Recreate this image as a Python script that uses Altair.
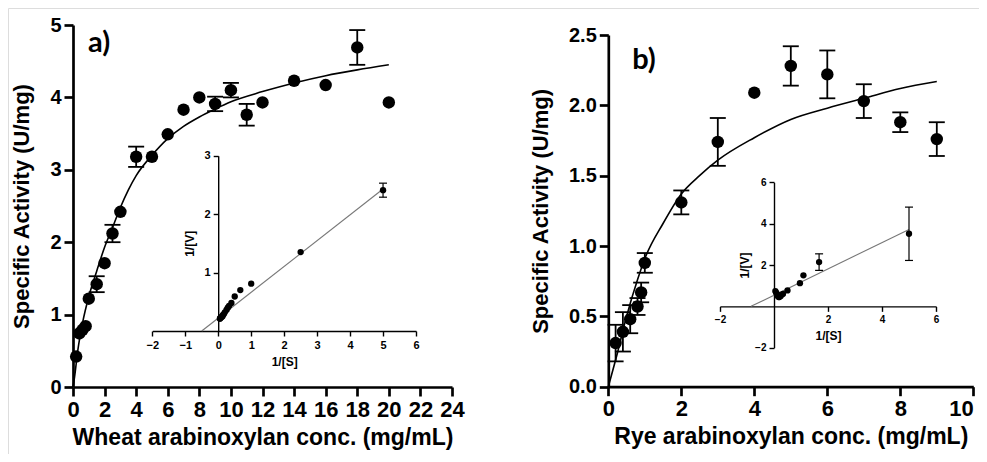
import altair as alt
import pandas as pd

# ---------------- data ----------------
# Panel a) wheat arabinoxylan
wheat_conc = [0.2, 0.4, 0.6, 0.8, 1.0, 1.5, 2.0, 2.5, 3.0, 4.0, 5.0, 6.0, 7.0, 8.0,
              9.0, 10.0, 11.0, 12.0, 14.0, 16.0, 18.0, 20.0]
wheat_act = [0.42, 0.74, 0.79, 0.84, 1.22, 1.42, 1.71, 2.12, 2.42, 3.18, 3.18, 3.49,
             3.83, 4.00, 3.91, 4.10, 3.76, 3.93, 4.23, 4.17, 4.69, 3.93]
wheat_err = [0, 0, 0, 0, 0, 0.11, 0, 0.12, 0, 0.14, 0, 0,
             0, 0, 0.10, 0.10, 0.15, 0, 0, 0, 0.24, 0]
wheat_fit_x = [0, 0.1, 0.3, 0.6, 1.0, 1.5, 2.0, 2.5, 3.0, 3.5, 4.0, 5.0, 6.0, 7.0,
               8.0, 9.0, 10.0, 12.0, 14.0, 16.0, 18.0, 20.0]
wheat_fit_y = [0, 0.14, 0.5, 0.88, 1.25, 1.6, 1.93, 2.2, 2.48, 2.72, 2.92, 3.2, 3.43,
               3.6, 3.73, 3.84, 3.94, 4.08, 4.2, 4.3, 4.38, 4.45]
wheat_inv_s = [5.0, 2.5, 1.0, 0.67, 0.5, 0.4, 0.33, 0.29, 0.25, 0.2, 0.17, 0.14,
               0.125, 0.1, 0.08, 0.06, 0.05]
wheat_inv_v = [2.41, 1.35, 0.81, 0.70, 0.59, 0.48, 0.43, 0.40, 0.36, 0.32, 0.29, 0.27,
               0.25, 0.24, 0.23, 0.22, 0.21]
wheat_inv_err = [0.12, 0, 0, 0, 0, 0, 0, 0, 0, 0, 0, 0, 0, 0, 0, 0, 0]
wheat_lb_x = [-0.5, 5.0]
wheat_lb_y = [0.0, 2.43]

# Panel b) rye arabinoxylan
rye_conc = [0.2, 0.4, 0.6, 0.8, 0.9, 1.0, 2.0, 3.0, 4.0, 5.0, 6.0, 7.0, 8.0, 9.0]
rye_act = [0.31, 0.39, 0.48, 0.57, 0.67, 0.88, 1.31, 1.74, 2.09, 2.28, 2.22, 2.03, 1.88, 1.76]
rye_err = [0.13, 0.14, 0.10, 0.06, 0.07, 0.07, 0.085, 0.17, 0, 0.14, 0.17, 0.12, 0.07, 0.12]
rye_fit_x = [0, 0.25, 0.5, 0.8, 1.0, 1.5, 2.0, 2.5, 3.0, 4.0, 5.0, 6.0, 7.0, 8.0, 9.0]
rye_fit_y = [0, 0.24, 0.5, 0.76, 0.91, 1.16, 1.37, 1.5, 1.61, 1.77, 1.9, 1.98, 2.05, 2.12, 2.17]
rye_inv_s = [5.0, 1.67, 1.09, 0.96, 0.5, 0.33, 0.25, 0.2, 0.17, 0.14, 0.125, 0.08, 0.05]
rye_inv_v = [3.51, 2.14, 1.50, 1.12, 0.77, 0.60, 0.50, 0.45, 0.45, 0.50, 0.58, 0.66, 0.74]
rye_inv_err = [1.29, 0.40, 0, 0, 0, 0, 0, 0, 0, 0, 0, 0, 0]
rye_lb_x = [-0.85, 5.0]
rye_lb_y = [0.0, 3.72]

# ---------------- layout (view pixels) ----------------
W, H = 971, 446
FONT = "Liberation Sans"


def sc(dom, rng):
    return alt.Scale(domain=dom, range=rng, nice=False, zero=False)


def main_axis(orient, offset, values, title, label_size, title_size, title_pad,
              fmt=None, label_align=None):
    kw = dict(orient=orient, offset=offset, values=values, title=title, grid=False,
              domainColor="black", domainWidth=2.7, tickColor="black", tickWidth=2.7,
              tickSize=9, labelPadding=3,
              labelFont=FONT, labelFontWeight="bold", labelFontSize=label_size,
              labelColor="black", labelFlush=False, labelOverlap=False,
              titleFont=FONT, titleFontWeight="bold", titleFontSize=title_size,
              titleColor="black", titlePadding=title_pad)
    if fmt:
        kw["format"] = fmt
    if label_align is not None:
        kw["labelAlign"] = label_align
    return alt.Axis(**kw)


def inset_axis(orient, offset, values, title, title_pad, label_size=11):
    return alt.Axis(orient=orient, offset=offset, values=values, title=title, grid=False,
                    domainColor="black", domainWidth=1.4, tickColor="black", tickWidth=1.4,
                    tickSize=5, labelPadding=3, labelFont=FONT, labelFontWeight="bold",
                    labelFontSize=label_size, labelColor="black", labelFlush=False,
                    labelOverlap=False, titleFont=FONT, titleFontWeight="bold",
                    titleFontSize=12, titleColor="black", titlePadding=title_pad)


def panel(xs, ys, errs, fx, fy, sx, sy, ax, ay, pt_size, cap, lw, curve_color,
          curve_width, curve_interp):
    pts = pd.DataFrame({"x": xs, "y": ys, "e": errs})
    pts["lo"] = pts["y"] - pts["e"]
    pts["hi"] = pts["y"] + pts["e"]
    eb = pts[pts["e"] > 0]
    caps = pd.concat([eb[["x"]].assign(v=eb["lo"]), eb[["x"]].assign(v=eb["hi"])])
    fit = pd.DataFrame({"x": fx, "y": fy})
    layers = []
    layers.append(
        alt.Chart(fit).mark_line(color=curve_color, strokeWidth=curve_width,
                                 interpolate=curve_interp).encode(
            x=alt.X("x:Q", scale=sx, axis=ax), y=alt.Y("y:Q", scale=sy, axis=ay))
    )
    if len(eb):
        layers.append(
            alt.Chart(eb).mark_rule(color="black", strokeWidth=lw).encode(
                x=alt.X("x:Q", scale=sx, axis=None),
                y=alt.Y("lo:Q", scale=sy, axis=None), y2="hi:Q")
        )
        layers.append(
            alt.Chart(caps).mark_tick(orient="horizontal", color="black", size=cap,
                                      thickness=lw, opacity=1).encode(
                x=alt.X("x:Q", scale=sx, axis=None),
                y=alt.Y("v:Q", scale=sy, axis=None))
        )
    layers.append(
        alt.Chart(pts).mark_circle(color="black", size=pt_size, opacity=1).encode(
            x=alt.X("x:Q", scale=sx, axis=None), y=alt.Y("y:Q", scale=sy, axis=None))
    )
    return layers


layers = []

# ---- panel a main ----
layers += panel(
    wheat_conc, wheat_act, wheat_err, wheat_fit_x, wheat_fit_y,
    sc([0, 24], [65, 444]), sc([0, 5], [379, 17]),
    main_axis("bottom", -67, list(range(0, 25, 2)), "Wheat arabinoxylan conc. (mg/mL)", 22, 23, 6),
    main_axis("left", -65, [0, 1, 2, 3, 4, 5], "Specific Activity (U/mg)", 20, 22, 16),
    155, 16, 1.8, "black", 1.6, "monotone")

# ---- panel a inset ----
layers += panel(
    wheat_inv_s, wheat_inv_v, wheat_inv_err, wheat_lb_x, wheat_lb_y,
    sc([-2, 6], [144.3, 408]), sc([0, 3], [323, 147.7]),
    inset_axis("bottom", -123, [-2, -1, 0, 1, 2, 3, 4, 5, 6], "1/[S]", 6),
    inset_axis("left", -210.2, [1, 2, 3], "1/[V]", 8),
    40, 8, 1.2, "#777777", 1.1, "linear")

# ---- panel b main ----
layers += panel(
    rye_conc, rye_act, rye_err, rye_fit_x, rye_fit_y,
    sc([0, 10], [600.3, 965.3]), sc([0, 2.5], [378.7, 27]),
    main_axis("bottom", -67.3, [0, 2, 4, 6, 8, 10], "Rye arabinoxylan conc. (mg/mL)", 22, 23, 6,
              label_align={"condition": {"test": "datum.value == 10", "value": "right"},
                           "value": "center"}),
    main_axis("left", -600.3, [0, 0.5, 1.0, 1.5, 2.0, 2.5], "Specific Activity (U/mg)", 20, 22, 16, ".1f"),
    155, 16, 1.8, "black", 1.6, "monotone")

# ---- panel b inset ----
layers += panel(
    rye_inv_s, rye_inv_v, rye_inv_err, rye_lb_x, rye_lb_y,
    sc([-2, 6], [712, 928]), sc([-2, 6], [339.7, 174.3]),
    inset_axis("bottom", -147.65, [-2, 2, 4, 6], "1/[S]", 6, 10),
    inset_axis("left", -766, [-2, 2, 4, 6], "1/[V]", 3, 10),
    40, 8, 1.2, "#777777", 1.1, "linear")

# ---- panel letters ----
panel_letters = ["a)", "b)"]
letter_pos = [(91, 43.5), (636, 60.5)]
for txt, (px, py) in zip(panel_letters, letter_pos):
    layers.append(
        alt.Chart(pd.DataFrame({"t": [txt]})).mark_text(
            font="Lato", fontWeight="bold", fontSize=29, color="black",
            align="center", baseline="alphabetic").encode(
            text="t:N", x=alt.value(px), y=alt.value(py))
    )

chart = (
    alt.layer(*layers)
    .resolve_scale(x="independent", y="independent")
    .resolve_axis(x="independent", y="independent")
    .properties(width=W, height=H, padding=0,
                autosize=alt.AutoSizeParams(type="none"))
    .configure_view(stroke=None)
    .configure(background="white")
)

chart.save("out.html", embed_options={"renderer": "svg", "actions": False})
